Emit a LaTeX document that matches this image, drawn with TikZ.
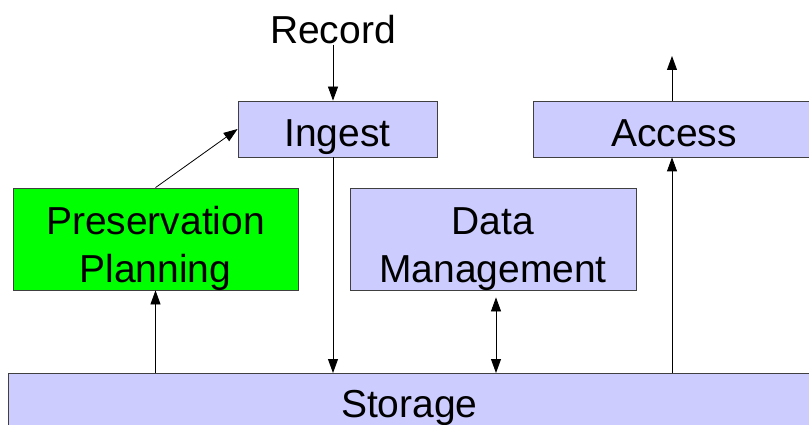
\documentclass[tikz,border=0pt]{standalone}
\usepackage{fontspec}
\setmainfont{Liberation Sans}
\usetikzlibrary{arrows.meta, positioning}

\tikzset{
  block/.style={draw=black!75, line width=0.8pt, fill=blue!20, inner sep=0pt,
    align=center, font=\fontsize{39}{48}\selectfont,
    text height=35pt, text depth=0pt},
  twoline/.style={text height=86pt},
  flow/.style={line width=0.8pt, -{Triangle[length=14pt,width=10pt]}},
}

\begin{document}
\begin{tikzpicture}[x=1pt, y=-1pt]
  \useasboundingbox (0,0) rectangle (809,425);
  % boxes
  \node[block, minimum width=199pt, minimum height=56pt] (ingest) at (337.5,129) {Ingest};
  \node[block, minimum width=281pt, minimum height=56pt, anchor=west] (access) at (533,129) {Access};
  \node[block, twoline, fill=green, minimum width=285pt, minimum height=102pt] (plan) at (155.5,239) {Preservation\\Planning};
  \node[block, twoline, minimum width=286pt, minimum height=102pt] (dm) at (493,239) {Data\\Management};
  \node[block, text height=18pt, minimum width=820pt, minimum height=70pt,
    anchor=north west] (storage) at (8,373) {\hspace*{-18pt}Storage};
  \node[font=\fontsize{39}{46}\selectfont, inner sep=0pt] (record) at (333,30) {Record};
  \coordinate (out) at (672,56);
  % connectors
  \draw[flow] (record.south) -- (record |- ingest.north);
  \draw[flow] (ingest.south -| record) -- (record |- storage.north);
  \draw[flow] (plan.north) -- (ingest.west);
  \draw[flow] (storage.north -| plan) -- (plan.south);
  \draw[flow, {Triangle[length=14pt,width=10pt]}-{Triangle[length=14pt,width=10pt]}, shorten <=7pt] (dm.south -| 496,0) -- (storage.north -| 496,0);
  \draw[flow] (storage.north -| out) -- (access.south -| out);
  \draw[flow] (access.north -| out) -- (out);
\end{tikzpicture}
\end{document}
